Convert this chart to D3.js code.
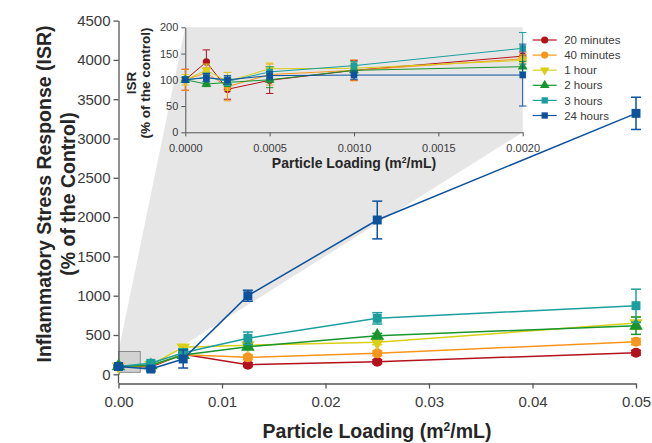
<!DOCTYPE html>
<html>
<head>
<meta charset="utf-8">
<script src="https://cdn.jsdelivr.net/npm/d3@7"></script>
<style>
  body { margin: 0; background: #fff; }
  svg { display: block; font-family: Arial, "Liberation Sans", sans-serif; }
</style>
</head>
<body>
<svg id="chart" width="652" height="443"></svg>
<script>
// series info
let seriesNames = ['20 minutes', '40 minutes', '1 hour', '2 hours', '3 hours', '24 hours']
let seriesColors = ['#b3121c', '#f7961e', '#d9cf17', '#18952f', '#1c9e9e', '#0d529c']
let seriesShapes = ['circle', 'circle', 'down', 'up', 'square', 'square']

// main chart data (% of control)
let mainLoading = [0, 0.003125, 0.00625, 0.0125, 0.025, 0.05]
let main20min = [100, 95, 255, 122, 160, 275]
let main40min = [100, 110, 250, 216, 267, 415]
let main1hr = [100, 120, 343, 370, 407, 652]
let main2hr = [100, 115, 245, 351, 491, 618]
let main3hr = [100, 140, 275, 458, 712, 873]
let main24hr = [100, 67, 195, 1000, 1963, 3320]
let mainErr20min = [15, 20, 30, 25, 25, 30]
let mainErr40min = [15, 20, 30, 30, 30, 40]
let mainErr1hr = [15, 20, 26, 30, 30, 80]
let mainErr2hr = [15, 20, 30, 30, 30, 110]
let mainErr3hr = [15, 25, 50, 80, 72, 210]
let mainErr24hr = [15, 25, 115, 70, 240, 205]

// inset data
let insetLoading = [0, 0.000125, 0.00025, 0.0005, 0.001, 0.002]
let inset20min = [100, 134, 82, 99, 118, 145]
let inset40min = [100, 113, 87, 110, 118, 140]
let inset1hr = [100, 118, 97, 121, 122, 137]
let inset2hr = [100, 92, 95, 100, 118, 125]
let inset3hr = [100, 105, 97, 115, 127, 160]
let inset24hr = [100, 104, 100, 108, 109, 109]
let insetErr20min = [20, 23, 19, 25, 19, 8]
let insetErr40min = [20, 10, 27, 20, 20, 8]
let insetErr1hr = [10, 12, 17, 11, 10, 8]
let insetErr2hr = [5, 5, 8, 15, 10, 10]
let insetErr3hr = [5, 8, 8, 10, 8, 30]
let insetErr24hr = [5, 8, 8, 8, 8, 59]

// tick labels
let mainXTicks = [0, 0.01, 0.02, 0.03, 0.04, 0.05]
let mainYTicks = [0, 500, 1000, 1500, 2000, 2500, 3000, 3500, 4000, 4500]
let insetXTicks = [0, 0.0005, 0.001, 0.0015, 0.002]
let insetYTicks = [0, 50, 100, 150, 200]

let mainValues = [main20min, main40min, main1hr, main2hr, main3hr, main24hr]
let mainErrors = [mainErr20min, mainErr40min, mainErr1hr, mainErr2hr, mainErr3hr, mainErr24hr]
let insetValues = [inset20min, inset40min, inset1hr, inset2hr, inset3hr, inset24hr]
let insetErrors = [insetErr20min, insetErr40min, insetErr1hr, insetErr2hr, insetErr3hr, insetErr24hr]

let svg = d3.select('#chart')

// scales
let xMain = d3.scaleLinear().domain([0, 0.05]).range([118.5, 636])
let yMain = d3.scaleLinear().domain([0, 4500]).range([374.3, 20.6])
let xInset = d3.scaleLinear().domain([0, 0.002]).range([185.3, 522.7])
let yInset = d3.scaleLinear().domain([0, 200]).range([132.3, 27.3])
let xAxisY = 383.5

let symbolFor = (shape, size) => {
    let type = d3.symbolCircle
    if (shape === 'square') type = d3.symbolSquare
    if (shape === 'up' || shape === 'down') type = d3.symbolTriangle
    return d3.symbol().type(type).size(size)()
}

// zoom callout: box corners joined to inset corners
let boxX = [0, 0.0021]
let boxY = [25, 290]
let fan = [
    [xMain(boxX[0]), yMain(boxY[1])],
    [xInset(0), yInset(200)],
    [xInset(0.002), yInset(200)],
    [xInset(0.002), yInset(0)],
    [xMain(boxX[1]), yMain(boxY[0])],
    [xMain(boxX[0]), yMain(boxY[0])]
]
svg.append('polygon')
   .attr('points', fan.map(p => p.join(',')).join(' '))
   .attr('fill', '#e6e6e6')

svg.append('rect')
   .attr('x', xMain(boxX[0]))
   .attr('y', yMain(boxY[1]))
   .attr('width', xMain(boxX[1]) - xMain(boxX[0]))
   .attr('height', yMain(boxY[0]) - yMain(boxY[1]))
   .attr('fill', '#d2d2d2')
   .attr('stroke', '#8a8a8a')
   .attr('stroke-width', 1)

// draws axes + series for one panel
let drawPanel = (opts) => {
    let g = svg.append('g')
    let xAx = g.append('g')
               .attr('transform', `translate(0, ${opts.xAxisY})`)
               .call(d3.axisBottom(opts.x).tickValues(opts.xTicks).tickSize(opts.tick).tickSizeOuter(0).tickFormat(d3.format(opts.xFormat)))
    let yAx = g.append('g')
               .attr('transform', `translate(${opts.x.range()[0]}, 0)`)
               .call(d3.axisLeft(opts.y).tickValues(opts.yTicks).tickSize(opts.tick).tickSizeOuter(0).tickFormat(d3.format('d')))
    g.append('line')
     .attr('x1', opts.x.range()[0]).attr('x2', opts.x.range()[0])
     .attr('y1', opts.y.range()[0]).attr('y2', opts.xAxisY)
     .attr('stroke', '#555').attr('stroke-width', opts.axisWidth)
    ;[xAx, yAx].forEach(ax => {
        ax.selectAll('path, line').attr('stroke', '#555').attr('stroke-width', opts.axisWidth)
        ax.selectAll('text').attr('fill', '#3a3a3a').style('font-size', opts.fontSize + 'px')
    })
    xAx.selectAll('text').attr('dy', opts.xLabelDy)
    yAx.selectAll('text').attr('x', -opts.tick - 3)

    opts.values.forEach((vals, s) => {
        let color = seriesColors[s]
        let pts = vals.map((v, i) => ({x: opts.loading[i], v: v, e: opts.errors[s][i]}))
        let sg = g.append('g')
        sg.append('path')
          .datum(pts)
          .attr('fill', 'none')
          .attr('stroke', color)
          .attr('stroke-width', opts.lineWidth)
          .attr('d', d3.line().x(d => opts.x(d.x)).y(d => opts.y(d.v)))
        let eb = sg.selectAll('.err')
                   .data(pts)
                   .enter()
                   .append('g')
                   .attr('stroke', color)
                   .attr('stroke-width', opts.lineWidth)
        eb.append('line')
          .attr('x1', d => opts.x(d.x)).attr('x2', d => opts.x(d.x))
          .attr('y1', d => opts.y(d.v - d.e)).attr('y2', d => opts.y(d.v + d.e))
        eb.append('line')
          .attr('x1', d => opts.x(d.x) - opts.cap).attr('x2', d => opts.x(d.x) + opts.cap)
          .attr('y1', d => opts.y(d.v + d.e)).attr('y2', d => opts.y(d.v + d.e))
        eb.append('line')
          .attr('x1', d => opts.x(d.x) - opts.cap).attr('x2', d => opts.x(d.x) + opts.cap)
          .attr('y1', d => opts.y(d.v - d.e)).attr('y2', d => opts.y(d.v - d.e))
        sg.selectAll('.mark')
          .data(pts)
          .enter()
          .append('path')
          .attr('d', symbolFor(seriesShapes[s], opts.markSize))
          .attr('transform', d => `translate(${opts.x(d.x)}, ${opts.y(d.v)})` + (seriesShapes[s] === 'down' ? ' rotate(180)' : ''))
          .attr('fill', color)
    })
    return g
}

drawPanel({
    x: xMain, y: yMain, xAxisY: xAxisY, xTicks: mainXTicks, yTicks: mainYTicks,
    xFormat: '.2f', tick: 5, fontSize: 15, xLabelDy: '1.05em', axisWidth: 1.3,
    loading: mainLoading, values: mainValues, errors: mainErrors,
    lineWidth: 1.5, cap: 5, markSize: 80
})

drawPanel({
    x: xInset, y: yInset, xAxisY: yInset(0), xTicks: insetXTicks, yTicks: insetYTicks,
    xFormat: '.4f', tick: 4, fontSize: 11, xLabelDy: '1.2em', axisWidth: 1,
    loading: insetLoading, values: insetValues, errors: insetErrors,
    lineWidth: 1, cap: 3.7, markSize: 42
})

// axis titles
let title = (x, y, size, rotate, parts) => {
    let t = svg.append('text')
               .attr('transform', `translate(${x}, ${y})` + (rotate ? ' rotate(-90)' : ''))
               .attr('text-anchor', 'middle')
               .attr('font-weight', 'bold')
               .attr('fill', '#262626')
               .style('font-size', size + 'px')
    parts.forEach(p => {
        t.append('tspan')
         .text(p.text)
         .attr('dy', p.dy || 0)
         .style('font-size', p.size ? p.size + 'px' : null)
    })
}
let loadingTitle = (size) => [
    {text: 'Particle Loading (m'},
    {text: '2', size: size * 0.62, dy: -size * 0.38},
    {text: '/mL)', dy: size * 0.38}
]
title(377, 438, 19.5, false, loadingTitle(19.5))
title(51, 194, 19.5, true, [{text: 'Inflammatory Stress Response (ISR)'}])
title(75, 194, 19.5, true, [{text: '(% of the Control)'}])

title(354, 168, 14, false, loadingTitle(14))
title(135.5, 83, 13.5, true, [{text: 'ISR'}])
title(150, 83, 13.5, true, [{text: '(% of the control)'}])

// legend
let legend = svg.append('g').attr('transform', 'translate(532.7, 40)')
let item = legend.selectAll('g')
                 .data(seriesNames)
                 .enter()
                 .append('g')
                 .attr('transform', (d, i) => `translate(0, ${i * 15.1})`)
item.append('line')
    .attr('x1', 0).attr('x2', 24)
    .attr('stroke', (d, i) => seriesColors[i])
    .attr('stroke-width', 1.2)
item.append('path')
    .attr('d', (d, i) => symbolFor(seriesShapes[i], 40))
    .attr('transform', (d, i) => 'translate(12, 0)' + (seriesShapes[i] === 'down' ? ' rotate(180)' : ''))
    .attr('fill', (d, i) => seriesColors[i])
item.append('text')
    .text(d => d)
    .attr('x', 31.5)
    .attr('dy', '0.36em')
    .attr('fill', '#3a3a3a')
    .style('font-size', '11.5px')
</script>
</body>
</html>
